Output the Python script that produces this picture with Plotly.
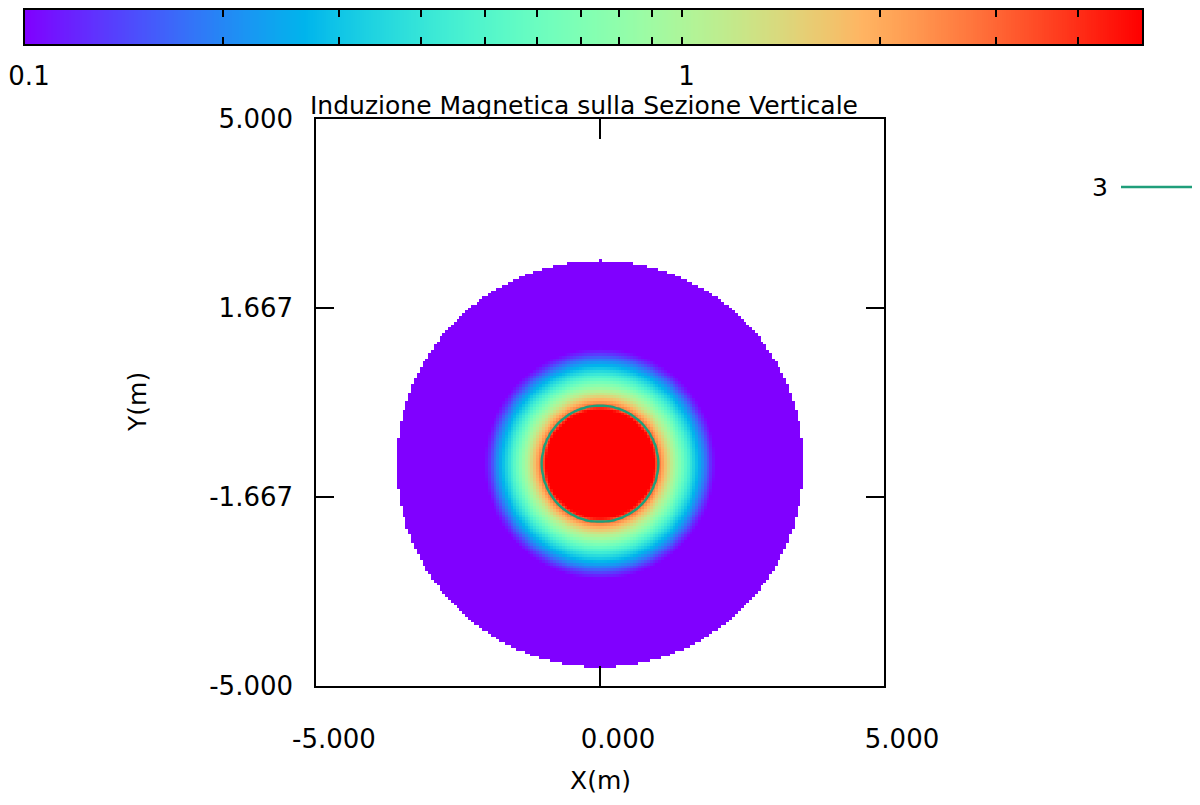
import numpy as np
import plotly.graph_objects as go

# ---------------- data ----------------
# radial profile of the magnetic induction around the conductor (r in m, B in units of the colorbar)
profile_r = [0.00, 0.90, 0.97, 1.02, 1.08, 1.15, 1.25, 1.35, 1.45, 1.55, 1.65, 1.75, 1.85, 1.95, 2.05, 2.60, 3.60]
profile_b = [9.0, 7.0, 4.5, 3.0, 2.3, 1.7, 1.15, 0.85, 0.62, 0.46, 0.34, 0.25, 0.18, 0.125, 0.095, 0.07, 0.05]

disc_center_x = 0.0
disc_center_y = -1.08
disc_radius = 3.58
grid_step = 0.05

cb_min = 0.1
cb_max = 5.0
cb_tick_vals = [0.1, 0.2, 0.3, 0.4, 0.5, 0.6, 0.7, 0.8, 0.9, 1, 2, 3, 4]
cb_tick_text = ["0.1", "", "", "", "", "", "", "", "", "1", "", "", ""]

x_tick_vals = [-5, 0, 5]
x_tick_text = ["-5.000", "0.000", "5.000"]
y_tick_vals = [5, 1.667, -1.667, -5]
y_tick_text = ["5.000", "1.667", "-1.667", "-5.000"]

contour_level = 3
contour_name = "3"
title_text = "Induzione Magnetica sulla Sezione Verticale"
x_title = "X(m)"
y_title = "Y(m)"

# ---------------- build grid ----------------
xs = np.arange(-5.0, 5.0 + grid_step / 2, grid_step)
ys = np.arange(-5.0, 5.0 + grid_step / 2, grid_step)
XX, YY = np.meshgrid(xs, ys)
RR = np.hypot(XX - disc_center_x, YY - disc_center_y)
logB = np.interp(RR, profile_r, np.log10(profile_b))
logB[RR > disc_radius] = np.nan

# gnuplot rainbow palette (rgbformulae 33,13,10)
def pal(t):
    r = min(1.0, abs(2 * t - 0.5))
    g = np.sin(np.pi * t)
    b = np.cos(np.pi * t / 2)
    return "rgb(%d,%d,%d)" % (round(255 * r), round(255 * max(g, 0)), round(255 * max(b, 0)))

colorscale = [[t, pal(t)] for t in np.linspace(0, 1, 41)]
zmin = np.log10(cb_min)
zmax = np.log10(cb_max)

FONT = "DejaVu Sans"
OFF = 8                     # page body margin of the browser
W, H = 1200 - 2 * OFF, 805 - 2 * OFF

def px(x):
    return (x - OFF) / W

def py(y):
    return 1 - (y - OFF) / H

fig = go.Figure()

fig.add_trace(go.Heatmap(
    x=xs, y=ys, z=logB, colorscale=colorscale, zmin=zmin, zmax=zmax,
    showscale=False, zsmooth=False, xaxis="x", yaxis="y", hoverinfo="skip",
))

fig.add_trace(go.Contour(
    x=xs, y=ys, z=logB, showscale=False, xaxis="x", yaxis="y",
    contours=dict(start=np.log10(contour_level), end=np.log10(contour_level), size=1, coloring="none"),
    line=dict(color="#1f9e7a", width=2.4, smoothing=1.0),
    hoverinfo="skip", name=contour_name, showlegend=False,
))

# colour bar drawn as a heat-strip on its own axes
cb_x = np.linspace(zmin, zmax, 500)
fig.add_trace(go.Heatmap(
    x=cb_x, y=[0.5], z=[cb_x], colorscale=colorscale, zmin=zmin, zmax=zmax,
    showscale=False, xaxis="x2", yaxis="y2", hoverinfo="skip",
))

tick_font = dict(family=FONT, size=26, color="black")
text_font = dict(family=FONT, size=25, color="black")

fig.update_layout(
    template="none",
    width=W, height=H, autosize=False,
    margin=dict(l=0, r=0, t=0, b=0, pad=0),
    paper_bgcolor="white", plot_bgcolor="white",
    font=text_font,
    showlegend=False,
    title=dict(text=title_text, x=px(584), xanchor="center", y=py(105), yanchor="middle",
               xref="paper", yref="paper", font=text_font),
    xaxis=dict(
        domain=[px(316), px(884)], range=[-5, 5], anchor="y", automargin=False,
        tickmode="array", tickvals=x_tick_vals, ticktext=x_tick_text,
        ticks="inside", ticklen=20, tickwidth=1.5, tickcolor="black",
        mirror="ticks", showline=True, linewidth=1.5, linecolor="black",
        showgrid=False, zeroline=False, ticklabelshift=18, ticklabelstandoff=29,
        tickfont=tick_font,
    ),
    yaxis=dict(
        domain=[py(686), py(119)], range=[-5, 5], anchor="x", automargin=False,
        tickmode="array", tickvals=y_tick_vals, ticktext=y_tick_text,
        ticks="inside", ticklen=18, tickwidth=1.5, tickcolor="black",
        mirror="ticks", showline=True, linewidth=1.5, linecolor="black",
        showgrid=False, zeroline=False, ticklabelstandoff=16,
        tickfont=tick_font,
    ),
    xaxis2=dict(
        domain=[px(25), px(1142)], range=[zmin, zmax], anchor="y2", automargin=False,
        tickmode="array", tickvals=list(np.log10(cb_tick_vals)), ticktext=cb_tick_text,
        ticks="inside", ticklen=7, tickwidth=1.5, tickcolor="black",
        mirror="ticks", showline=True, linewidth=2, linecolor="black",
        showgrid=False, zeroline=False, ticklabelstandoff=8, ticklabelshift=4,
        ticklabeloverflow="allow", tickfont=tick_font,
    ),
    yaxis2=dict(
        domain=[py(44), py(10)], range=[0, 1], anchor="x2", automargin=False,
        showticklabels=False, ticks="", showline=True, mirror=True,
        linewidth=2, linecolor="black", showgrid=False, zeroline=False,
    ),
)

# axis titles (placed as in the reference)
fig.add_annotation(text=x_title, x=px(600), y=0, xref="paper", yref="paper",
                   xanchor="center", yanchor="bottom", showarrow=False, font=text_font)
fig.add_annotation(text=y_title, x=px(137), y=py(402), xref="paper", yref="paper",
                   xanchor="center", yanchor="middle", showarrow=False, textangle=-90, font=text_font)

# legend key for the contour line (text left of the sample, gnuplot style)
fig.add_annotation(text=contour_name, x=px(1110), y=py(187), xref="paper", yref="paper",
                   xanchor="right", yanchor="middle", showarrow=False, font=text_font)
fig.add_shape(type="line", xref="paper", yref="paper", x0=px(1121), x1=px(1196),
              y0=py(187), y1=py(187), line=dict(color="#1f9e7a", width=2.4))

fig.write_html("out.html")
